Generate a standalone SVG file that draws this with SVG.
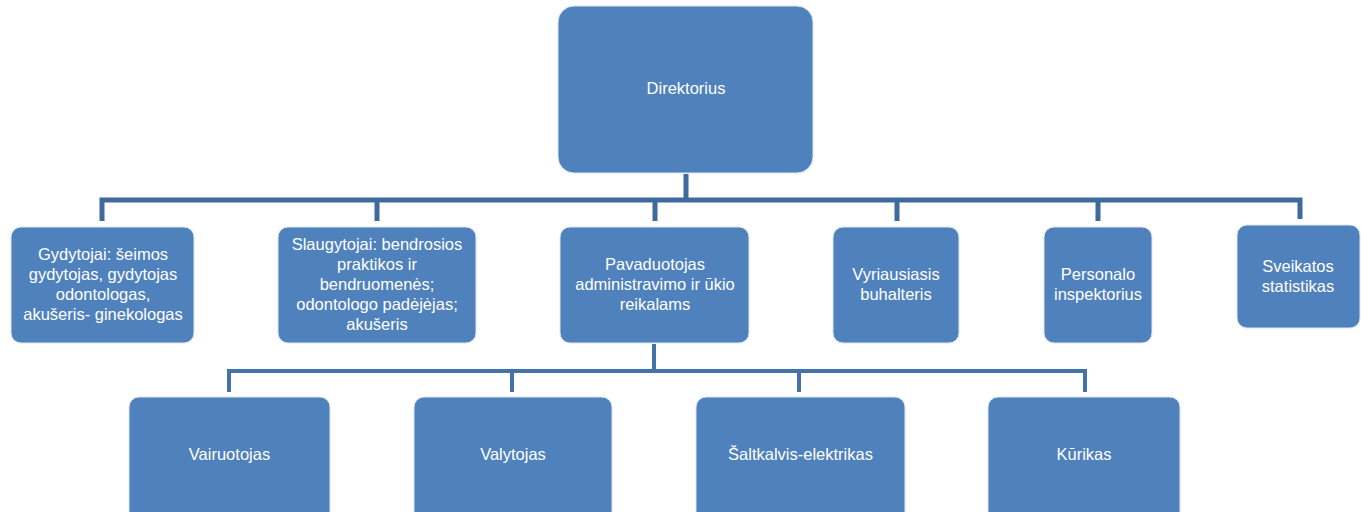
<svg xmlns="http://www.w3.org/2000/svg" width="1364" height="512" viewBox="0 0 1364 512">
<style>
.box{fill:#4F81BD;stroke:#DCE6F2;stroke-width:1}
.t{font-family:"Liberation Sans",Arial,sans-serif;font-size:16.5px;fill:#FFFFFF;text-anchor:middle}
.c{fill:none;stroke:#3F6A9D;stroke-width:5;stroke-linejoin:miter;stroke-linecap:butt}
.c2{fill:none;stroke:#4472AA;stroke-width:4;stroke-linecap:butt}
</style>
<rect width="1364" height="512" fill="#FFFFFF"/>
<g id="connectors">
<path class="c" d="M686 174 V200 M102 221 V200 H1300 V219 M377 200 V221 M655 200 V221 M897 200 V221 M1098 200 V221"/>
<path class="c2" d="M654 344 V371 M229 392 V371 H1085 V392 M512 371 V392 M799 371 V392"/>
</g>
<g id="n-direktorius">
<rect class="box" x="558" y="6" width="255" height="167" rx="16"/>
<text class="t" x="686" y="94">Direktorius</text>
</g>
<g id="n-gydytojai">
<rect class="box" x="11" y="227" width="183" height="116" rx="10"/>
<text class="t" x="103" y="260">Gydytojai: šeimos</text>
<text class="t" x="103" y="280">gydytojas, gydytojas</text>
<text class="t" x="103" y="300">odontologas,</text>
<text class="t" x="103" y="320">akušeris- ginekologas</text>
</g>
<g id="n-slaugytojai">
<rect class="box" x="278" y="227" width="198" height="116" rx="10"/>
<text class="t" x="377" y="250">Slaugytojai: bendrosios</text>
<text class="t" x="377" y="270">praktikos ir</text>
<text class="t" x="377" y="290">bendruomenės;</text>
<text class="t" x="377" y="310">odontologo padėjėjas;</text>
<text class="t" x="377" y="330">akušeris</text>
</g>
<g id="n-pavaduotojas">
<rect class="box" x="560" y="227" width="189" height="116" rx="10"/>
<text class="t" x="655" y="270">Pavaduotojas</text>
<text class="t" x="655" y="290">administravimo ir ūkio</text>
<text class="t" x="655" y="310">reikalams</text>
</g>
<g id="n-vyriausiasis">
<rect class="box" x="833" y="227" width="126" height="116" rx="10"/>
<text class="t" x="896" y="280">Vyriausiasis</text>
<text class="t" x="896" y="300">buhalteris</text>
</g>
<g id="n-personalo">
<rect class="box" x="1044" y="227" width="108" height="116" rx="10"/>
<text class="t" x="1098" y="280">Personalo</text>
<text class="t" x="1098" y="300">inspektorius</text>
</g>
<g id="n-sveikatos">
<rect class="box" x="1237" y="225" width="123" height="103" rx="10"/>
<text class="t" x="1298" y="272">Sveikatos</text>
<text class="t" x="1298" y="292">statistikas</text>
</g>
<g id="n-vairuotojas">
<rect class="box" x="129" y="397" width="201" height="130" rx="10"/>
<text class="t" x="229.5" y="460">Vairuotojas</text>
</g>
<g id="n-valytojas">
<rect class="box" x="414" y="397" width="198" height="130" rx="10"/>
<text class="t" x="513" y="460">Valytojas</text>
</g>
<g id="n-saltkalvis">
<rect class="box" x="696" y="397" width="209" height="130" rx="10"/>
<text class="t" x="800.5" y="460">Šaltkalvis-elektrikas</text>
</g>
<g id="n-kurikas">
<rect class="box" x="988" y="397" width="192" height="130" rx="10"/>
<text class="t" x="1084" y="460">Kūrikas</text>
</g>
</svg>
